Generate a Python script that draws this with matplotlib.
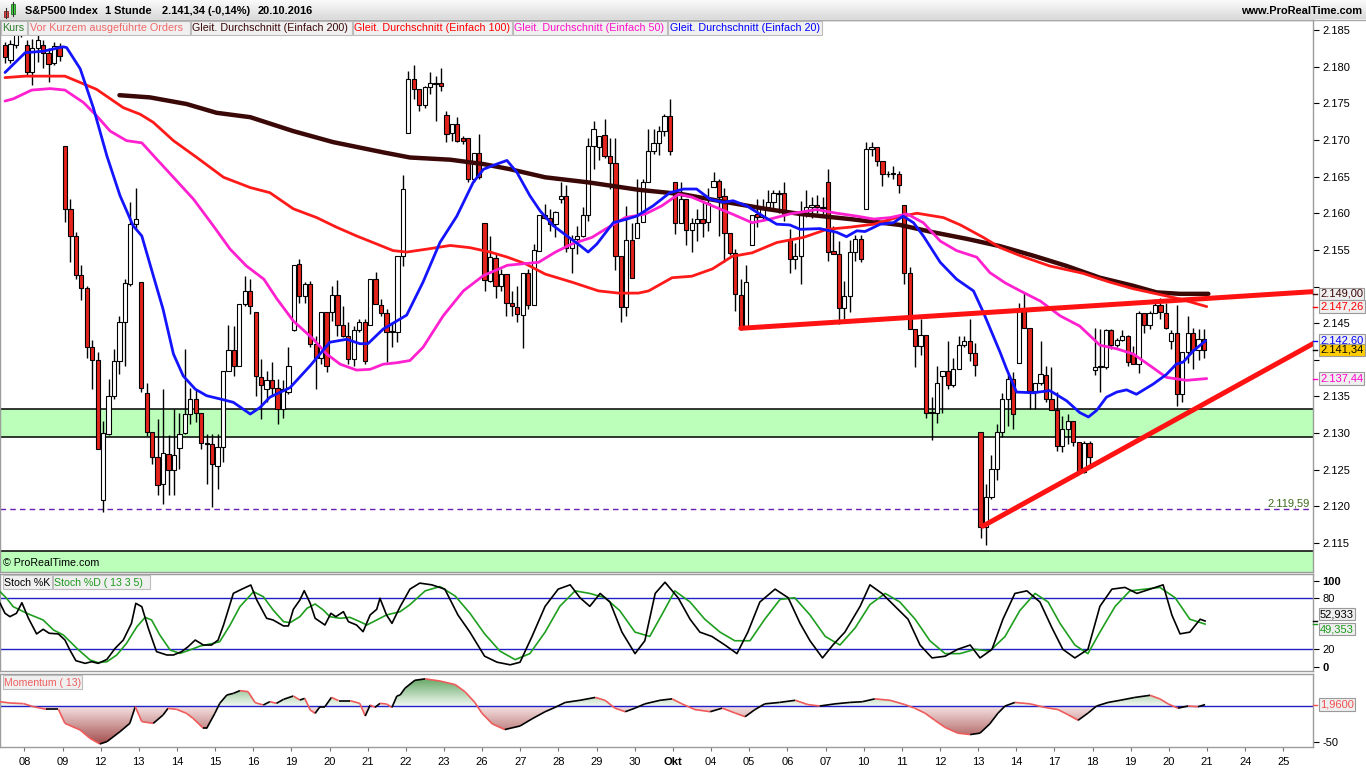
import numpy as np
import matplotlib
matplotlib.use("Agg")
import matplotlib.pyplot as plt
import matplotlib.transforms as mtransforms
from matplotlib.collections import LineCollection
from matplotlib.colors import LinearSegmentedColormap
from matplotlib.patches import PathPatch, Rectangle
from matplotlib.path import Path
from matplotlib.ticker import FuncFormatter

plt.rcParams["font.family"] = ["Liberation Sans", "DejaVu Sans"]
plt.rcParams["font.size"] = 8

# --- hourly candles (7 bars per session, first 4 bars = tail of 07.09.) -------
opens = [
    2183.0, 2180.9, 2183.0, 2185.0,
    2183.0, 2179.3, 2182.5, 2183.0, 2181.9, 2180.5, 2182.8,
    2169.2, 2160.6, 2156.9, 2151.6, 2149.8, 2141.7, 2140.0,
    2120.9, 2129.9, 2135.1, 2139.9, 2145.2, 2150.3, 2158.5,
    2150.6, 2135.5, 2130.1, 2126.8, 2123.1, 2127.2, 2124.9,
    2127.9, 2130.0, 2132.6, 2134.6, 2132.8, 2128.6, 2128.5,
    2125.5, 2128.1, 2138.5, 2141.4, 2139.2, 2147.6, 2149.4,
    2146.5, 2137.6, 2136.0, 2137.2, 2136.2, 2133.3, 2135.6,
    2144.0, 2153.1, 2148.7, 2150.3, 2142.2, 2140.3, 2146.5,
    2146.5, 2148.9, 2144.7, 2143.3, 2140.1, 2144.1, 2145.2,
    2144.7, 2151.0, 2147.5, 2146.4, 2143.8, 2143.8, 2154.2,
    2171.0, 2178.3, 2176.9, 2174.7, 2177.2, 2177.8, 2177.8,
    2173.4, 2170.9, 2172.2, 2170.2, 2170.2, 2164.6, 2168.2,
    2158.7, 2150.8, 2153.9, 2150.1, 2151.7, 2147.8, 2147.2,
    2146.1, 2151.8, 2147.5, 2154.9, 2159.7, 2159.4, 2158.5,
    2161.9, 2162.3, 2155.2, 2156.5, 2156.9, 2159.7, 2169.2,
    2169.0, 2170.7, 2167.8, 2166.9, 2154.1, 2147.2, 2156.4,
    2156.6, 2158.8, 2164.3, 2168.5, 2169.6, 2171.2, 2173.2,
    2164.3, 2158.7, 2162.0, 2157.7, 2158.7, 2159.2, 2158.8,
    2163.6, 2164.4, 2162.3, 2157.3, 2154.6, 2148.8, 2144.3,
    2155.7, 2159.9, 2159.5, 2160.8, 2161.5, 2162.8, 2162.8,
    2156.5, 2153.8, 2154.2, 2159.7, 2160.9, 2161.1, 2160.9,
    2164.3, 2154.9, 2154.4, 2147.1, 2148.7, 2154.7, 2156.5,
    2160.6, 2168.8, 2169.0, 2167.1, 2165.3, 2165.4, 2165.3,
    2161.1, 2151.9, 2144.2, 2141.9, 2143.4, 2132.8, 2132.8,
    2137.8, 2138.5, 2136.5, 2138.8, 2142.0, 2142.6, 2140.9,
    2130.2, 2117.2, 2121.3, 2125.1, 2130.2, 2134.7, 2137.4,
    2139.6, 2146.9, 2144.4, 2135.8, 2136.9, 2137.9, 2134.7,
    2133.1, 2128.3, 2130.6, 2131.6, 2128.8, 2124.7, 2128.7,
    2138.6, 2139.0, 2139.0, 2144.1, 2142.0, 2142.7, 2143.2,
    2140.8, 2139.4, 2146.4, 2144.7, 2146.4, 2147.5, 2146.4,
    2142.6, 2143.6, 2135.3, 2141.0, 2143.7, 2141.4, 2142.8,
]
highs = [
    2183.4, 2183.6, 2186.0, 2186.0,
    2183.6, 2183.7, 2184.3, 2183.6, 2182.5, 2183.4, 2183.2,
    2169.2, 2161.9, 2157.4, 2152.9, 2150.1, 2142.7, 2141.0,
    2131.7, 2137.4, 2141.5, 2146.0, 2151.0, 2161.5, 2163.5,
    2150.6, 2136.9, 2130.1, 2131.9, 2136.0, 2129.7, 2133.3,
    2132.8, 2141.5, 2136.2, 2136.0, 2132.8, 2129.9, 2129.9,
    2129.9, 2138.5, 2144.7, 2144.6, 2147.6, 2151.5, 2151.0,
    2146.5, 2140.1, 2138.5, 2139.7, 2137.4, 2137.2, 2141.7,
    2153.0, 2153.8, 2150.6, 2150.8, 2143.3, 2146.5, 2146.5,
    2150.1, 2150.9, 2147.4, 2145.2, 2144.6, 2145.6, 2145.6,
    2151.0, 2152.0, 2148.3, 2146.9, 2145.1, 2154.2, 2165.2,
    2179.4, 2180.2, 2176.9, 2177.4, 2179.2, 2178.7, 2179.8,
    2174.0, 2172.2, 2173.1, 2170.6, 2170.2, 2168.2, 2170.8,
    2158.7, 2156.9, 2154.4, 2152.4, 2151.7, 2149.4, 2150.1,
    2151.8, 2152.4, 2155.8, 2159.7, 2161.3, 2160.6, 2160.3,
    2164.3, 2163.9, 2157.0, 2158.2, 2160.8, 2170.2, 2172.6,
    2170.5, 2172.8, 2170.3, 2170.3, 2154.1, 2161.0, 2158.7,
    2164.7, 2164.7, 2171.5, 2171.5, 2171.9, 2173.5, 2175.6,
    2164.3, 2164.2, 2162.0, 2159.4, 2160.6, 2161.5, 2163.5,
    2165.6, 2164.6, 2163.5, 2157.3, 2155.1, 2151.0, 2152.9,
    2159.8, 2161.9, 2161.9, 2163.1, 2163.2, 2163.2, 2164.2,
    2157.9, 2156.0, 2161.7, 2163.1, 2162.2, 2162.5, 2162.2,
    2166.0, 2158.3, 2156.2, 2150.8, 2156.4, 2157.0, 2157.0,
    2169.7, 2169.7, 2169.0, 2167.1, 2165.7, 2166.5, 2165.7,
    2161.1, 2152.6, 2144.2, 2145.6, 2143.4, 2134.9, 2139.2,
    2138.5, 2142.6, 2140.2, 2143.3, 2143.3, 2145.5, 2142.3,
    2130.2, 2123.1, 2127.0, 2131.3, 2135.5, 2138.0, 2138.3,
    2147.8, 2149.3, 2144.4, 2136.9, 2142.6, 2139.2, 2139.0,
    2135.6, 2132.4, 2132.6, 2131.6, 2128.8, 2128.9, 2128.9,
    2144.3, 2144.2, 2144.2, 2144.2, 2143.0, 2144.1, 2143.4,
    2141.9, 2146.6, 2146.4, 2146.7, 2148.3, 2148.5, 2147.8,
    2144.0, 2147.5, 2141.0, 2146.0, 2144.3, 2144.2, 2144.2,
]
lows = [
    2180.5, 2180.5, 2182.5, 2184.0,
    2178.7, 2177.5, 2180.6, 2179.8, 2177.9, 2180.2, 2180.7,
    2158.8, 2153.3, 2151.0, 2148.1, 2140.3, 2136.0, 2127.8,
    2119.2, 2129.7, 2134.6, 2138.1, 2139.2, 2150.1, 2158.0,
    2135.6, 2129.6, 2125.8, 2121.5, 2120.3, 2121.5, 2121.5,
    2125.1, 2129.9, 2131.2, 2131.5, 2127.8, 2123.1, 2119.9,
    2122.4, 2126.0, 2138.5, 2137.8, 2139.2, 2147.4, 2146.2,
    2135.1, 2131.9, 2134.2, 2135.1, 2131.2, 2132.0, 2135.3,
    2143.9, 2147.8, 2147.8, 2141.7, 2136.0, 2139.4, 2138.3,
    2145.3, 2143.3, 2143.1, 2139.4, 2139.2, 2143.8, 2139.4,
    2144.7, 2147.6, 2146.0, 2139.7, 2141.7, 2142.4, 2152.8,
    2171.0, 2175.6, 2174.0, 2174.4, 2176.3, 2172.6, 2176.7,
    2169.7, 2169.9, 2169.7, 2169.5, 2164.2, 2164.2, 2164.7,
    2149.4, 2150.6, 2148.5, 2149.4, 2146.0, 2146.0, 2145.1,
    2141.6, 2146.9, 2147.5, 2154.9, 2159.2, 2157.6, 2156.7,
    2161.4, 2154.7, 2151.8, 2154.4, 2156.7, 2159.0, 2166.0,
    2167.3, 2167.6, 2163.3, 2152.2, 2145.2, 2146.0, 2151.2,
    2156.6, 2158.8, 2164.3, 2168.1, 2167.9, 2170.6, 2167.9,
    2157.1, 2158.7, 2155.6, 2154.7, 2156.2, 2156.7, 2157.6,
    2163.6, 2156.9, 2153.4, 2154.3, 2146.7, 2144.1, 2144.2,
    2155.7, 2158.1, 2159.0, 2160.5, 2160.5, 2160.0, 2159.0,
    2151.9, 2152.4, 2150.3, 2159.5, 2159.4, 2160.0, 2159.9,
    2153.5, 2154.4, 2144.9, 2145.6, 2146.5, 2153.5, 2153.3,
    2160.6, 2167.8, 2166.5, 2163.7, 2165.0, 2164.6, 2162.8,
    2150.3, 2144.2, 2139.0, 2140.6, 2132.0, 2129.0, 2131.4,
    2132.8, 2136.0, 2136.3, 2138.8, 2141.8, 2139.9, 2137.8,
    2115.7, 2114.7, 2121.0, 2123.6, 2129.5, 2131.0, 2130.6,
    2139.6, 2144.4, 2133.3, 2133.3, 2136.5, 2134.2, 2133.1,
    2127.6, 2127.4, 2128.5, 2128.3, 2124.6, 2124.6, 2125.3,
    2137.9, 2135.6, 2138.8, 2141.5, 2141.7, 2142.5, 2139.2,
    2139.4, 2138.2, 2143.7, 2144.2, 2146.4, 2145.6, 2144.2,
    2141.5, 2133.7, 2134.2, 2139.5, 2138.7, 2140.0, 2140.2,
]
closes = [
    2181.3, 2183.1, 2185.0, 2184.5,
    2179.3, 2182.5, 2183.6, 2181.9, 2180.4, 2182.8, 2181.4,
    2160.6, 2156.9, 2151.6, 2149.8, 2141.7, 2140.0, 2127.8,
    2130.0, 2135.1, 2139.9, 2145.2, 2150.5, 2158.5, 2159.2,
    2136.1, 2130.1, 2126.8, 2122.9, 2127.3, 2124.9, 2127.0,
    2129.9, 2132.6, 2134.6, 2132.8, 2128.6, 2128.5, 2125.8,
    2128.1, 2138.5, 2141.4, 2139.2, 2147.6, 2149.4, 2147.4,
    2137.8, 2136.6, 2137.2, 2136.2, 2133.3, 2136.0, 2139.2,
    2152.9, 2148.7, 2150.3, 2142.2, 2140.3, 2146.5, 2139.2,
    2148.8, 2144.7, 2143.3, 2140.1, 2144.1, 2145.2, 2139.9,
    2151.0, 2147.6, 2146.4, 2143.8, 2143.8, 2154.2, 2163.3,
    2178.3, 2176.9, 2174.7, 2177.2, 2177.8, 2177.6, 2177.4,
    2170.8, 2172.2, 2169.9, 2169.8, 2164.6, 2168.2, 2164.9,
    2150.9, 2154.0, 2150.1, 2151.7, 2147.8, 2147.3, 2146.2,
    2151.8, 2147.5, 2155.0, 2159.7, 2159.4, 2158.5, 2160.1,
    2162.3, 2155.2, 2156.5, 2156.9, 2159.7, 2169.2, 2171.5,
    2170.5, 2167.8, 2166.9, 2154.1, 2147.2, 2156.4, 2151.2,
    2158.7, 2164.3, 2168.5, 2169.6, 2171.2, 2173.2, 2168.5,
    2158.7, 2162.0, 2157.7, 2158.7, 2159.2, 2158.7, 2161.4,
    2164.4, 2162.2, 2157.3, 2154.6, 2149.0, 2144.3, 2150.6,
    2159.8, 2159.5, 2160.8, 2161.5, 2162.8, 2162.6, 2159.9,
    2153.8, 2154.2, 2159.7, 2160.9, 2161.1, 2160.9, 2160.7,
    2154.7, 2154.4, 2147.1, 2148.7, 2154.7, 2156.5, 2153.8,
    2168.8, 2169.0, 2167.1, 2165.3, 2165.4, 2165.4, 2163.8,
    2151.9, 2144.2, 2141.9, 2143.4, 2132.8, 2132.9, 2136.8,
    2138.5, 2136.5, 2138.8, 2142.0, 2142.6, 2140.9, 2139.3,
    2117.2, 2121.3, 2125.1, 2130.2, 2134.7, 2137.4, 2132.6,
    2146.9, 2144.4, 2135.8, 2136.9, 2138.1, 2134.7, 2133.1,
    2128.3, 2130.6, 2131.6, 2128.8, 2124.7, 2128.7, 2126.7,
    2139.0, 2139.2, 2144.1, 2142.0, 2142.7, 2143.2, 2139.7,
    2139.4, 2146.4, 2144.7, 2146.4, 2147.5, 2146.5, 2144.3,
    2143.6, 2135.3, 2141.0, 2143.7, 2141.4, 2142.8, 2141.34,
]

# --- moving averages: (bar index, value) --------------------------------------
ma200 = [(21.0, 2176.1), (26.6, 2175.8), (33.3, 2174.9), (38.8, 2173.7), (45, 2173.1),
         (52.9, 2171.2), (60.2, 2169.7), (69.4, 2168.3), (74.3, 2167.6), (81.7, 2167.3),
         (87.8, 2166.7), (92.7, 2166.0), (99.1, 2164.9), (107.1, 2164.2), (116.2, 2163.2),
         (124.2, 2162.6), (130.9, 2161.7), (139.5, 2160.6), (145.9, 2159.9), (155.1, 2159.2),
         (164.2, 2158.4), (170.3, 2157.4), (176.5, 2156.5), (182.6, 2155.5), (188.7, 2154.2),
         (194.8, 2152.8), (200.9, 2151.2), (207.0, 2150.1), (211.3, 2149.2), (215.6, 2149.0),
         (220.8, 2149.0)]
ma100 = [(0, 2178.5), (3.7, 2178.7), (11, 2178.7), (16.8, 2176.9), (21.7, 2174.4),
         (24.8, 2173.5), (27.2, 2172.4), (30.9, 2169.9), (35.2, 2167.6), (40.1, 2164.9),
         (45, 2163.5), (48.6, 2162.8), (52.9, 2160.6), (57.2, 2159.4), (60.8, 2158.1),
         (64.5, 2156.9), (68.2, 2155.8), (71.2, 2154.9), (73.7, 2154.7), (77.4, 2155.1),
         (81.7, 2155.6), (85.3, 2155.3), (89.0, 2154.7), (92.2, 2154.0), (95.5, 2153.1),
         (99.1, 2151.7), (104.0, 2150.6), (108.9, 2149.4), (112.6, 2149.1), (116.2, 2149.1),
         (118.1, 2149.4), (122.4, 2151.2), (126.0, 2151.4), (129.8, 2152.4), (133.4, 2154.1),
         (137.1, 2154.6), (141.6, 2156.0), (146.5, 2156.7), (150.8, 2157.8), (155.1, 2158.1),
         (159.4, 2158.5), (163.6, 2159.4), (167.3, 2160.0), (172.2, 2159.4), (175.3, 2158.4),
         (179.5, 2156.7), (182.6, 2155.3), (186.3, 2154.2), (191.7, 2152.8), (197.8, 2151.8),
         (202.7, 2150.6), (207.0, 2149.7), (211.3, 2149.0), (215.6, 2148.3), (220.5, 2147.26)]
ma50 = [(0, 2175.3), (1.5, 2175.6), (4.9, 2176.8), (8.3, 2177.0), (11, 2176.8),
        (14.4, 2175.1), (16.8, 2173.3), (19.3, 2171.2), (22.3, 2169.9), (25.1, 2169.6),
        (27.8, 2167.4), (30.9, 2164.9), (34.6, 2161.9), (38.2, 2158.3), (41.3, 2155.1),
        (44.3, 2152.8), (47.5, 2151.0), (49.9, 2148.3), (52.9, 2145.3), (56.6, 2142.8),
        (59.0, 2140.8), (61.5, 2139.4), (64.5, 2138.6), (67.0, 2138.7), (69.4, 2139.4),
        (71.9, 2139.6), (74.3, 2139.9), (76.7, 2141.7), (80.4, 2146.0), (84.1, 2149.4),
        (87.8, 2151.5), (92.2, 2152.9), (97.9, 2153.3), (101.0, 2154.7), (104.0, 2155.8),
        (107.7, 2156.7), (110.1, 2157.8), (113.8, 2159.4), (117.5, 2159.9), (120.5, 2161.0),
        (123.6, 2162.6), (126.0, 2162.2), (129.8, 2161.0), (133.4, 2159.9), (137.1, 2158.7),
        (140.4, 2159.2), (144.0, 2159.9), (148.9, 2160.5), (152.6, 2160.0), (156.3, 2159.6),
        (159.4, 2159.2), (162.4, 2159.4), (165.5, 2159.9), (168.5, 2158.7), (171.6, 2156.2),
        (174.6, 2154.9), (178.3, 2154.0), (180.7, 2151.9), (183.5, 2150.5), (186.3, 2149.4),
        (190.0, 2148.0), (193.6, 2146.0), (197.2, 2144.6), (200.9, 2142.0), (204.0, 2141.5),
        (207.0, 2140.8), (210.1, 2139.2), (213.1, 2137.6), (216.8, 2137.2), (220.5, 2137.44)]
ma20 = [(0, 2179.2), (3.7, 2181.9), (7.0, 2182.1), (10.7, 2182.7), (11.3, 2182.6),
        (13.8, 2179.7), (16.2, 2174.4), (18.7, 2167.8), (21.1, 2162.4), (23.5, 2158.3),
        (25.1, 2156.9), (27.2, 2151.5), (29.0, 2146.9), (30.9, 2140.8), (32.7, 2137.8),
        (34.9, 2136.0), (37.0, 2135.1), (39.8, 2134.6), (41.9, 2134.2), (45.0, 2132.6),
        (46.8, 2133.5), (48.6, 2134.9), (52.3, 2136.2), (56.0, 2139.2), (59.6, 2142.4),
        (62.7, 2142.8), (65.1, 2142.2), (66.6, 2142.2), (69.4, 2144.2), (73.7, 2146.1),
        (76.7, 2150.6), (79.8, 2156.0), (82.9, 2159.6), (85.9, 2164.2), (87.8, 2166.0),
        (90.2, 2166.7), (92.1, 2167.2), (93.9, 2165.6), (96.3, 2162.4), (98.2, 2160.3),
        (100.6, 2158.3), (103.1, 2156.9), (105.5, 2155.6), (107.0, 2154.7), (108.6, 2155.8),
        (111.6, 2158.7), (114.1, 2159.2), (115.9, 2159.6), (118.9, 2161.0), (122.0, 2162.8),
        (124.5, 2163.3), (126.9, 2163.3), (129.4, 2161.9), (131.8, 2161.5), (133.6, 2161.7),
        (136.1, 2161.0), (139.1, 2159.6), (141.6, 2158.5), (144.0, 2158.4), (145.9, 2157.8),
        (149.5, 2157.9), (152.6, 2157.4), (154.4, 2156.8), (156.3, 2157.6), (157.8, 2157.5),
        (160.6, 2158.5), (163.0, 2158.7), (164.8, 2159.6), (166.7, 2158.7), (168.5, 2156.9),
        (171.6, 2153.3), (174.6, 2151.0), (177.7, 2149.4), (179.5, 2146.5), (182.6, 2141.0),
        (183.8, 2138.7), (185.6, 2135.6), (188.7, 2135.5), (191.7, 2135.8), (194.8, 2134.4),
        (197.2, 2132.8), (198.8, 2132.2), (200.3, 2133.1), (202.1, 2134.9), (204.0, 2135.6),
        (205.8, 2135.9), (207.6, 2135.3), (210.7, 2136.7), (213.1, 2138.0), (214.9, 2139.4),
        (216.2, 2139.7), (218.0, 2141.2), (220.3, 2142.6)]

# --- drawn objects ------------------------------------------------------------
resistance_line = [(135, 2144.3), (240, 2149.3)]
support_line = [(179.4, 2117.3), (240, 2142.2)]
zone_main = (2129.43, 2133.25)
zone_low_top = 2113.9
marker_level = 2119.59

# --- Stochastic (13 3 5) and Momentum (13) ------------------------------------
stoch_k = [(-0.9, 73.5), (0, 61.9), (0.9, 58.0), (2.1, 61.9), (3.1, 74.2), (4.3, 56.1),
           (5.8, 37.9), (7.0, 43.3), (8.1, 38.7), (9.8, 37.9), (11.0, 30.8), (11.9, 19.2),
           (13.0, 6.8), (14.7, 3.7), (15.9, 5.6), (17.1, 3.7), (18.7, 8.3), (20.2, 21.1),
           (21.7, 30.8), (23.2, 50.2), (24.0, 73.5), (25.1, 69.6), (26.3, 44.4), (27.8, 17.3),
           (29.7, 13.4), (30.9, 13.4), (32.4, 17.3), (33.6, 23.1), (34.9, 30.8), (36.4, 25.0),
           (37.9, 25.0), (39.1, 30.8), (40.1, 48.3), (41.9, 85.1), (43.4, 89.8), (45.1, 94.8),
           (46.2, 77.3), (48.0, 56.1), (49.2, 54.1), (51.1, 47.2), (52.0, 47.2), (52.9, 66.5),
           (54.1, 77.3), (54.9, 88.2), (56.0, 73.5), (56.9, 56.1), (58.7, 48.3), (59.8, 61.9),
           (60.7, 58.0), (62.1, 63.8), (63.0, 52.2), (64.5, 48.3), (65.7, 40.5), (67.0, 60.0),
           (68.2, 66.5), (68.8, 79.3), (70.0, 60.0), (71.0, 50.2), (72.5, 69.6), (74.3, 90),
           (76.1, 97), (78.3, 95), (80.7, 90), (83.1, 60), (85.3, 40), (88.0, 12), (90.3, 5),
           (92.7, 2), (94.5, 5), (96.7, 35), (99.1, 70), (101.5, 90), (103.7, 95), (105.5, 80),
           (107.3, 70), (109.2, 85), (111.0, 75), (113.2, 40), (115.6, 15), (117.4, 30),
           (119.3, 85), (121.1, 98), (123.5, 80), (125.7, 55), (127.5, 40), (129.7, 35),
           (132.1, 25), (134.3, 15), (136.3, 40), (138.5, 75), (141.3, 90), (143.7, 80),
           (145.9, 50), (147.7, 30), (150.0, 10), (151.9, 25), (154.1, 40), (156.9, 70),
           (158.7, 95), (160.9, 85), (163.3, 70), (165.7, 55), (167.9, 25), (170.1, 10),
           (172.5, 12), (174.8, 20), (177.1, 25), (178.9, 10), (181.1, 20), (183.1, 55),
           (185.3, 85), (187.5, 88), (189.9, 75), (192.1, 45), (194.1, 20), (196.3, 10),
           (198.7, 20), (200.9, 70), (203.1, 90), (205.5, 92), (207.7, 85), (210.1, 90),
           (212.5, 95), (214.1, 60), (215.6, 38), (217.4, 40), (219.3, 55), (220.2, 52.933)]
stoch_d = [(-0.9, 87.0), (0.3, 79.3), (1.5, 69.6), (4.0, 61.9), (7.0, 54.1), (8.9, 42.5),
           (10.7, 36.7), (13.2, 21.1), (15.6, 7.6), (17.1, 4.5), (18.7, 5.6), (20.5, 13.4),
           (22.3, 27.0), (24.2, 46.3), (25.7, 57.2), (26.9, 54.1), (28.4, 36.7), (30.3, 19.2),
           (32.1, 15.3), (33.9, 19.2), (35.8, 23.8), (38.2, 27.0), (39.4, 28.9), (41.3, 48.3),
           (43.1, 69.6), (45.6, 87.0), (47.4, 81.2), (49.2, 65.7), (51.1, 52.2), (52.3, 51.0),
           (54.1, 58.0), (55.4, 67.7), (56.9, 72.7), (58.4, 65.7), (59.6, 58.0), (61.5, 56.1),
           (63.3, 57.2), (65.1, 52.2), (66.4, 48.3), (68.2, 54.1), (70.0, 60.0), (72.5, 63.8),
           (74.3, 72), (77.1, 88), (79.8, 93), (82.6, 82), (85.3, 62), (88.0, 38), (90.8, 18),
           (93.6, 8), (96.3, 15), (99.1, 40), (101.8, 70), (104.6, 88), (107.3, 85),
           (110.1, 80), (112.8, 65), (115.6, 40), (118.3, 35), (120.5, 60), (122.9, 88),
           (125.7, 75), (128.4, 55), (131.2, 40), (133.9, 30), (136.7, 30), (139.4, 55),
           (142.2, 78), (144.9, 80), (147.7, 60), (150.5, 35), (153.2, 25), (156.0, 45),
           (158.7, 72), (161.5, 85), (164.2, 75), (167.0, 55), (169.7, 30), (172.5, 15),
           (175.2, 15), (178.0, 20), (180.7, 18), (183.5, 35), (186.2, 65), (189.0, 85),
           (191.4, 75), (193.6, 50), (196.3, 25), (198.7, 15), (200.9, 40), (203.7, 70),
           (206.4, 88), (209.2, 90), (211.9, 92), (214.7, 80), (217.4, 55), (220.2, 49.353)]
momentum = [(-0.9, 6.0), (0.9, 4.2), (3.4, 3.3), (5.2, -0.9), (7.6, -4.7), (9.8, -4.7),
            (11.0, -24.3), (13.8, -33.6), (15.6, -45.3), (17.4, -53.2), (18.7, -49.9),
            (21.1, -35.9), (22.9, -24.3), (23.9, -0.9), (25.1, -21.9), (27.2, -24.3),
            (29.0, -12.6), (29.9, -3.3), (31.5, -4.7), (33.3, -10.3), (34.5, -17.3),
            (36.4, -31.3), (37.0, -31.3), (38.5, -10.3), (39.4, 3.7), (40.7, 15.4),
            (41.9, 17.7), (43.1, 21.5), (44.6, 20.1), (45.9, 4.7), (47.4, 1.4), (48.6, 6.1),
            (49.8, 3.7), (51.1, 9.3), (52.9, 14.0), (54.1, 8.4), (55.0, 10.7), (56.0, -5.6),
            (56.9, -10.3), (57.8, -0.9), (58.7, -0.9), (59.9, 12.1), (61.2, 7.5), (63.3, 7.5),
            (65.1, 3.7), (66.1, -14.0), (67.0, 1.4), (67.9, -1.9), (68.8, 3.7), (70.0, 2.8),
            (71.0, -1.9), (71.9, 14.0), (72.5, 15.4), (73.4, 25), (75.2, 36), (77.1, 38),
            (79.8, 35), (82.6, 30), (84.4, 20), (86.2, 5), (87.5, -10), (89.4, -25),
            (91.7, -33), (94.5, -28), (96.7, -18), (99.1, -8), (100.9, -2), (102.8, 5),
            (105.5, 8), (108.3, 12), (110.1, 8), (111.9, -3), (113.8, -8), (115.6, -3),
            (117.4, 3), (120.2, 8), (122.4, 10), (124.2, 3), (126.6, -5), (129.4, -8),
            (131.6, -3), (134.0, -10), (135.8, -15), (137.6, -5), (139.4, 3), (142.1, 5),
            (145.0, 8), (147.3, 2), (149.5, 0), (152.3, 3), (155.0, 5), (157.3, 6),
            (159.6, 10), (162.4, 8), (165.1, 2), (166.9, -3), (168.8, -10), (170.6, -20),
            (172.5, -30), (174.8, -38), (177.1, -40), (178.9, -38), (180.7, -25),
            (182.2, -10), (183.5, 0), (185.3, 5), (188.1, 3), (190.8, -2), (193.2, -5),
            (195.0, -12), (196.9, -20), (198.7, -10), (200.3, 0), (202.4, 5), (204.6, 8),
            (207.3, 12), (210.1, 15), (211.9, 10), (213.4, 3), (215.2, -3), (217.1, 0),
            (218.9, -1), (220.2, 1.96)]

day_labels = ["08", "09", "12", "13", "14", "15", "16", "19", "20", "21", "22", "23",
              "26", "27", "28", "29", "30", "Okt", "04", "05", "06", "07", "10", "11",
              "12", "13", "14", "17", "18", "19", "20", "21", "24", "25"]
legend_labels = ["Kurs", "Vor Kurzem ausgeführte Orders",
                 "Gleit. Durchschnitt (Einfach 200)", "Gleit. Durchschnitt (Einfach 100)",
                 "Gleit. Durchschnitt (Einfach 50)", "Gleit. Durchschnitt (Einfach 20)"]

# --- colours ------------------------------------------------------------------
C_DOWN = "#e3231c"
C_MA200, C_MA100, C_MA50, C_MA20 = "#3b0808", "#ff1a1a", "#ff20d0", "#1414ff"
C_TREND = "#ff1212"
C_ZONE = "#bbffbb"
C_FRAME = "#9c9c9c"
C_STK, C_STD = "#000000", "#1f9f1f"
C_LEVEL = "#2020c8"
legend_colors = ["#2f7f2f", "#f06a6a", C_MA200, "#ff0000", "#ff10c8", "#0000ff"]

W, H = 1366, 768
fig = plt.figure(figsize=(W / 100, H / 100), dpi=100)
fig.patch.set_facecolor("white")


def px_axes(x0, y0, x1, y1):
    return fig.add_axes([x0 / W, 1 - y1 / H, (x1 - x0) / W, (y1 - y0) / H])


def de(v, nd):
    s = f"{v:,.{nd}f}"
    return s.replace(",", "X").replace(".", ",").replace("X", ".")


def frame(a):
    for s in a.spines.values():
        s.set_color(C_FRAME)
        s.set_linewidth(1)


def value_tag(a, val, text, fg, bg="#efefef", dy=0):
    a.annotate(text, xy=(1, val), xycoords=("axes fraction", "data"),
               xytext=(7, dy), textcoords="offset pixels", ha="left", va="center",
               fontsize=8, color=fg, annotation_clip=False, zorder=10,
               bbox=dict(boxstyle="square,pad=0.12", fc=bg, ec="#9a9a9a", lw=0.8))
    tr = mtransforms.blended_transform_factory(a.transAxes, a.transData)
    a.plot([1, 1 + 4 / 1313], [val, val], transform=tr, color=fg, lw=1,
           clip_on=False, zorder=10)


XL = (-0.92, 240.0)

# --- price panel --------------------------------------------------------------
ax = px_axes(0, 20, 1313, 572)
frame(ax)
o, h, l, c = (np.array(v, dtype=float) for v in (opens, highs, lows, closes))
idx = np.arange(len(c))
up = c >= o
ax.axhspan(*zone_main, color=C_ZONE, zorder=0, lw=0)
ax.axhspan(2100, zone_low_top, color=C_ZONE, zorder=0, lw=0)
for v in (*zone_main, zone_low_top):
    ax.axhline(v, color="black", lw=1.1, zorder=1)
ax.axhline(marker_level, color="#6a20b0", lw=1, ls=(0, (4, 3)), zorder=1)

ax.vlines(idx, l, h, color="black", lw=1, zorder=2)
ax.bar(idx, np.maximum(np.abs(c - o), 0.08), bottom=np.minimum(o, c), width=0.78,
       color=np.where(up, "white", C_DOWN), edgecolor="black", linewidth=0.8, zorder=3)

for pts, col, lw in ((ma200, C_MA200, 3.2), (ma100, C_MA100, 2.0),
                     (ma50, C_MA50, 2.0), (ma20, C_MA20, 2.0)):
    xs, ys = zip(*pts)
    ax.plot(xs, ys, color=col, lw=lw, zorder=5, solid_capstyle="round")

for pts in (resistance_line, support_line):
    xs, ys = zip(*pts)
    ax.plot(xs, ys, color=C_TREND, lw=3.6, zorder=6, solid_capstyle="round")

ax.set_xlim(*XL)
ax.set_ylim(2111.05, 2186.36)
ax.set_xticks([])
ax.yaxis.tick_right()
ax.set_yticks(np.arange(2115, 2186, 5))
# 2.150 and 2.140 sit under the value tags in the original, so they stay blank
ax.yaxis.set_major_formatter(
    FuncFormatter(lambda v, p: "" if round(v) in (2150, 2140) else de(v, 0)))
ax.tick_params(axis="y", length=4, width=0.8, pad=3, labelsize=8, color="black")

value_tag(ax, ma200[-1][1], de(ma200[-1][1], 2), "#3b0808")
value_tag(ax, ma100[-1][1], de(ma100[-1][1], 2), "#ff0000")
value_tag(ax, ma20[-1][1], de(ma20[-1][1], 2), "#0000ff")
value_tag(ax, closes[-1], de(closes[-1], 2), "black", bg="#ffcc00")
value_tag(ax, ma50[-1][1], de(ma50[-1][1], 2), "#ff00cc")
ax.annotate(de(marker_level, 2), xy=(1, marker_level), xycoords=("axes fraction", "data"),
            xytext=(-3, 1), textcoords="offset pixels", ha="right", va="bottom",
            fontsize=8, color="#3d6b1d", zorder=7)

# --- stochastic panel ---------------------------------------------------------
ax_s = px_axes(0, 574, 1313, 671)
frame(ax_s)
ax_s.axhline(80, color=C_LEVEL, lw=1, zorder=1)
ax_s.axhline(20, color=C_LEVEL, lw=1, zorder=1)
xs, ys = zip(*stoch_d)
ax_s.plot(xs, ys, color=C_STD, lw=1.2, zorder=3)
xs, ys = zip(*stoch_k)
ax_s.plot(xs, ys, color=C_STK, lw=1.2, zorder=4)
ax_s.set_xlim(*XL)
ax_s.set_ylim(-5.2, 107.6)
ax_s.set_xticks([])
ax_s.yaxis.tick_right()
ax_s.set_yticks([0, 20, 80, 100])
ax_s.set_yticklabels(["0", "20", "80", "100"])
for t in ax_s.get_yticklabels():
    if t.get_text() in ("0", "100"):
        t.set_fontweight("bold")
ax_s.tick_params(axis="y", length=4, width=0.8, pad=3, labelsize=8, color="black")
value_tag(ax_s, stoch_k[-1][1], de(stoch_k[-1][1], 3), "black", dy=7)
value_tag(ax_s, stoch_d[-1][1], de(stoch_d[-1][1], 3), "#1a9a1a", dy=-5)

# --- momentum panel -----------------------------------------------------------
ax_m = px_axes(0, 674, 1313, 747)
frame(ax_m)
mx, my = (np.array(v, dtype=float) for v in zip(*momentum))
cm_pos = LinearSegmentedColormap.from_list("pos", ["#f2f9f2", "#4f9a4f"])
cm_neg = LinearSegmentedColormap.from_list("neg", ["#f6e2e2", "#9c4040"])
for where, cmap, ext, grad in (
        (my >= 0, cm_pos, [mx[0], mx[-1], 0, 45], np.linspace(0, 1, 128)),
        (my <= 0, cm_neg, [mx[0], mx[-1], -58, 0], np.linspace(1, 0, 128))):
    pc = ax_m.fill_between(mx, my, 0, where=where, interpolate=True,
                           facecolor="none", edgecolor="none")
    clip = PathPatch(Path.make_compound_path(*pc.get_paths()),
                     transform=ax_m.transData, fc="none", ec="none")
    ax_m.add_patch(clip)
    im = ax_m.imshow(grad.reshape(-1, 1), extent=ext, origin="lower", aspect="auto",
                     cmap=cmap, zorder=1, interpolation="bilinear")
    im.set_clip_path(clip)
ax_m.axhline(0, color=C_LEVEL, lw=1, zorder=2)
segs = np.stack([np.column_stack([mx[:-1], my[:-1]]),
                 np.column_stack([mx[1:], my[1:]])], axis=1)
seg_cols = ["black" if b >= a else "#ef5b5b" for a, b in zip(my[:-1], my[1:])]
ax_m.add_collection(LineCollection(segs, colors=seg_cols, linewidths=1.2, zorder=3))
ax_m.set_xlim(*XL)
ax_m.set_ylim(-57.4, 44.8)
ax_m.yaxis.tick_right()
ax_m.set_yticks([-50])
ax_m.set_yticklabels(["-50"])
ax_m.tick_params(axis="y", length=4, width=0.8, pad=3, labelsize=8, color="black")
value_tag(ax_m, momentum[-1][1], de(momentum[-1][1], 4), "#ef5050")
ax_m.set_xticks([4 + 7 * k - 0.45 for k in range(len(day_labels))])
ax_m.set_xticklabels(day_labels)
for t in ax_m.get_xticklabels():
    if t.get_text() == "Okt":
        t.set_fontweight("bold")
ax_m.tick_params(axis="x", length=3, width=0.8, pad=4, labelsize=8, color="#777777")

# --- overlay: header, legend boxes, panel captions ----------------------------
ov = fig.add_axes([0, 0, 1, 1], zorder=20)
ov.patch.set_alpha(0)
ov.imshow(np.linspace(0, 1, 64).reshape(-1, 1), extent=[0, W, 19, 0], aspect="auto",
          cmap=LinearSegmentedColormap.from_list("hdr", ["#fbfbfb", "#dadada"]),
          zorder=0)
ov.plot([0, W], [19.5, 19.5], color="#a8a8a8", lw=1)
ov.set_xlim(0, W)
ov.set_ylim(H, 0)
ov.axis("off")

# header icon: a red and a green candle
ov.plot([6, 6], [8, 18], color="#333333", lw=0.8)
ov.add_patch(Rectangle((4, 10.5), 4, 6, fc="#e04848", ec="#8a1a1a", lw=0.6))
ov.plot([13, 13], [2, 16], color="#333333", lw=0.8)
ov.add_patch(Rectangle((11, 4), 4, 9.5, fc="#40d840", ec="#1a7a1a", lw=0.6))

hdr = [(25, "S&P500 Index"), (105, "1 Stunde"), (162, "2.141,34 (-0,14%)"), (258, "20.10.2016")]
for x, txt in hdr:
    ov.text(x, 10.5, txt, fontsize=7.9, fontweight="bold", va="center", ha="left")
ov.text(1362, 10.5, "www.ProRealTime.com", fontsize=7.9, fontweight="bold",
        va="center", ha="right")

legend_edges = [0, 27, 190, 352, 512, 667, 822]
for i, (txt, col) in enumerate(zip(legend_labels, legend_colors)):
    x0, x1 = legend_edges[i], legend_edges[i + 1]
    ov.add_patch(Rectangle((x0 + 0.5, 20.5), x1 - x0 - 1, 14, fc="#f0f0f0",
                           ec="#bdbdbd", lw=0.8))
    ov.text(x0 + 2.5, 27.8, txt, fontsize=7.75, color=col, va="center", ha="left")

ov.text(3, 563, "© ProRealTime.com", fontsize=7.7, va="center", ha="left")

for x0, x1, y0, txt, col in ((2, 52, 575, "Stoch %K", "black"),
                             (52, 150, 575, "Stoch %D ( 13 3 5)", "#1a9a1a"),
                             (2, 82, 675, "Momentum ( 13)", "#ef6060")):
    ov.add_patch(Rectangle((x0 + 0.5, y0), x1 - x0 - 1, 14, fc="#f0f0f0",
                           ec="#bdbdbd", lw=0.8))
    ov.text(x0 + 2.5, y0 + 7.5, txt, fontsize=7.6, color=col, va="center", ha="left")

fig.savefig("out.png", dpi=100, facecolor="white")
